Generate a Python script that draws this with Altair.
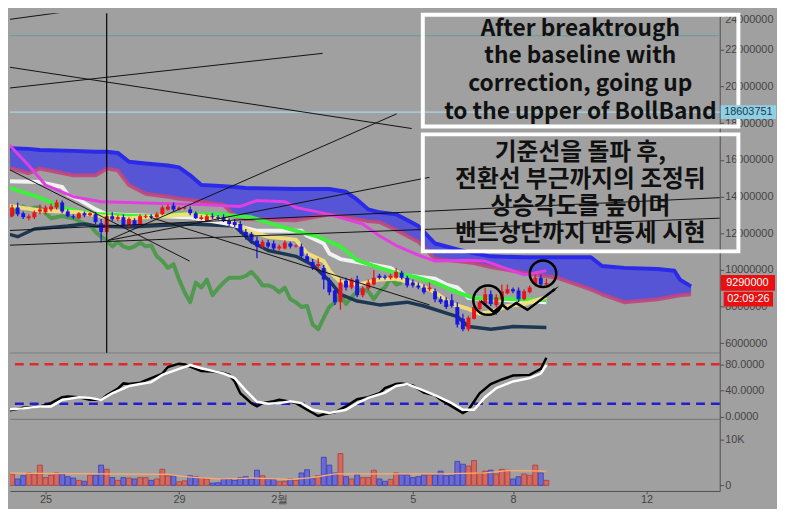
import altair as alt
import pandas as pd

# ---------------- 4h candles (price in millions) ----------------
OPEN = [12.50,12.93,13.40,13.09,12.82,12.87,13.19,13.14,13.30,13.40,
        13.67,13.19,12.93,12.82,13.09,12.98,13.03,12.55,12.07,12.93,
        12.77,12.87,12.39,12.71,12.45,12.87,12.93,12.87,13.03,13.30,
        13.51,13.30,13.35,13.30,13.09,12.77,12.66,12.93,12.87,12.87,
        12.66,12.61,12.50,12.07,11.97,11.60,11.28,11.49,11.44,11.17,
        11.17,11.44,11.28,11.28,10.74,10.43,10.21,10.11,9.41,8.88,
        8.24,9.41,9.04,9.47,8.62,8.99,9.20,9.68,9.63,9.57,
        9.57,9.84,9.57,9.31,9.15,9.04,8.94,8.83,8.40,8.35,
        8.35,7.98,7.34,6.76,7.34,7.87,8.14,8.67,8.09,8.40,
        8.72,8.94,8.88,8.40,8.78,9.20,9.57,9.20]
CLOSE = [12.93,13.40,13.03,12.87,12.93,13.14,13.30,13.40,13.46,13.67,
         13.19,12.93,12.87,13.09,12.98,13.09,12.61,12.07,12.93,12.77,
         12.87,12.39,12.77,12.39,12.93,12.93,12.87,13.03,13.40,13.46,
         13.30,13.40,13.40,13.09,12.82,12.87,12.93,12.87,12.82,12.66,
         12.50,12.45,12.07,11.81,11.60,11.28,11.54,11.28,11.17,11.28,
         11.49,11.28,11.33,10.74,10.48,10.11,10.32,9.47,8.78,8.24,
         9.31,9.04,9.47,8.62,8.99,9.31,9.57,9.57,9.57,9.68,
         9.89,9.57,9.15,9.15,9.04,8.78,9.04,8.40,8.24,7.98,
         8.03,7.02,6.76,7.39,7.98,8.24,8.67,8.14,8.51,8.83,
         8.94,8.83,8.40,8.83,9.04,9.57,9.20,9.29]
HIGH = [13.03,13.56,13.67,13.19,13.03,13.24,13.56,13.51,13.62,13.83,
        13.78,13.30,13.03,13.14,13.19,13.14,13.14,12.77,13.03,13.14,
        12.98,13.03,12.87,12.82,13.03,13.03,13.03,13.14,13.51,13.56,
        13.67,13.46,13.46,13.46,13.19,12.98,13.03,13.09,12.98,13.03,
        12.82,12.77,12.66,12.23,12.07,11.81,11.65,11.65,11.60,11.38,
        11.60,11.54,11.38,11.44,10.90,10.59,10.64,10.27,9.57,9.04,
        9.52,9.57,9.57,9.68,9.09,9.47,10.00,9.79,9.73,9.79,
        10.11,9.95,9.68,9.47,9.31,9.20,9.31,8.99,8.56,8.51,
        8.67,8.24,7.61,7.50,8.09,8.35,9.04,8.88,8.67,9.20,
        9.20,9.04,9.04,8.94,9.15,9.73,9.73,9.52]
LOW = [12.39,12.87,12.93,12.77,12.71,12.77,13.03,13.03,13.19,13.30,
       13.09,12.87,12.77,12.77,12.87,12.93,12.50,11.49,11.97,12.66,
       12.66,12.29,12.34,12.29,12.39,12.82,12.77,12.82,12.98,13.24,
       13.19,13.24,13.30,12.98,12.77,12.71,12.61,12.77,12.71,12.61,
       12.39,12.34,11.97,11.65,11.44,10.64,11.17,11.17,11.06,11.06,
       11.12,11.17,11.22,10.64,10.37,10.00,10.00,8.94,8.62,8.09,
       7.82,8.88,8.94,8.51,8.51,8.88,9.15,9.47,9.47,9.47,
       9.52,9.47,9.04,9.04,8.94,8.67,8.83,8.24,8.14,7.87,
       7.93,6.86,6.65,6.65,7.29,7.82,8.09,8.03,7.98,8.35,
       8.67,8.72,8.30,8.35,8.72,9.09,9.09,9.15]
VOLUME_K = [2.7,2.5,1.4,2.1,2.7,2.5,4.4,1.7,2.2,2.7,
            2.5,1.9,1.6,1.1,0.9,2.2,2.2,4.4,3.5,1.7,
            1.1,1.7,1.6,1.4,1.7,1.7,1.1,1.4,3.5,2.1,
            2.1,0.8,1.0,2.1,1.9,1.7,1.4,0.5,0.6,1.4,
            1.4,1.1,1.7,1.9,1.4,3.3,2.1,1.4,1.3,0.8,
            0.9,1.4,1.1,2.7,3.4,1.5,2.1,6.1,4.4,2.7,
            6.9,1.9,1.4,2.3,1.7,1.7,3.3,1.4,0.9,1.3,
            2.7,2.3,2.3,1.7,1.9,2.3,2.3,2.3,3.1,2.1,
            2.2,5.2,4.6,4.2,5.4,2.7,3.1,3.3,2.5,3.5,
            3.3,1.4,1.9,2.5,2.2,4.4,2.7,1.1]
VMA_I = [-1,17,29,32,38,44,51,55,59,78,86,90,97]
VMA_V = [2.7,2.5,2.4,1.9,1.4,1.6,1.3,1.7,2.5,2.5,2.7,3.2,3.1]

# ---------------- indicator lines (candle index, value) ----------------
CLOUD_I = [-1,4,6,12,16,18,20,22,25,29,31,33,35,39,41,43,52,58,61,63,65,67,70,74,77,81,84,87,93,99,105,107,111,117,120,121,123]
SPAN_TOP = [16.65,16.60,16.54,16.49,16.44,16.44,16.38,15.90,15.80,15.69,15.59,15.16,14.63,14.57,14.52,14.47,14.41,14.41,14.26,13.83,
            13.30,13.14,13.03,12.39,11.44,11.12,10.90,10.74,10.69,10.69,10.69,10.21,10.11,10.05,9.95,9.47,9.10]
SPAN_BOT = [15.69,15.27,15.53,15.16,15.16,15.53,15.43,14.63,14.15,13.99,13.88,13.83,13.72,13.56,12.93,12.77,12.71,13.03,12.87,12.77,
            12.66,12.61,12.18,11.54,10.59,10.48,10.37,10.16,9.84,9.57,8.94,8.67,8.24,8.40,8.56,8.62,8.67]
MAG_I = [-1,4,7,12,17,35,42,45,50,52,58,64,67,70,74,77,83,86,90,93,97]
MAG_V = [17.29,15.69,14.63,13.99,13.72,13.56,13.46,13.78,13.72,13.40,13.03,12.50,11.86,11.33,10.80,10.48,10.53,10.48,10.05,9.73,9.95]
WHITE_I = [-1,6,10,11,13,16,18,33,40,45,53,54,57,58,60,65,69,71,77,79,81,83,97]
WHITE_V = [14.84,14.79,14.52,14.10,13.83,13.30,13.03,12.87,12.50,12.13,12.13,11.86,11.44,10.90,10.59,10.32,10.11,9.73,9.52,9.20,9.04,8.46,8.24]
LIME_I = [-1,6,10,13,17,24,28,31,38,44,49,52,56,60,63,67,70,74,77,79,81,84,97]
LIME_V = [14.63,13.94,13.40,13.19,13.03,12.93,12.93,13.03,13.03,12.87,12.39,12.13,11.81,11.28,10.53,10.11,9.84,9.57,9.31,9.04,8.78,8.46,8.35]
YEL_I = [-1,6,13,17,22,33,40,44,47,52,54,57,58,60,63,67,70,74,77,80,83,85,87,90,93,97]
YEL_V = [13.56,13.24,13.14,12.93,12.82,13.03,12.71,12.07,11.81,11.65,10.90,10.48,9.95,9.35,9.20,9.47,9.52,9.20,8.78,8.14,7.87,7.61,7.71,8.03,8.14,8.51]
NAVY_I = [-1,2,5,11,14,16,22,33,41,44,47,52,55,58,60,63,67,72,75,81,83,87,91,97]
NAVY_V = [12.07,11.81,12.23,12.39,12.50,12.39,12.34,12.50,12.39,11.54,11.06,10.74,10.27,9.41,8.67,8.30,8.09,8.24,8.03,7.45,6.91,6.76,6.91,6.86]
CHIKOU_SHIFT = 26

# stochastic
K_I = [-1,0,3,6,8,10,11,13,15,17,18,20,21,22,24,26,28,29,31,32,34,35,37,39,40,41,42,44,45,46,48,49,51,52,54,56,57,59,61,63,65,67,68,70,71,73,75,77,78,80,82,83,85,87,89,91,94,96,97]
K_V = [11,9,14,16,21,30,31,30,26,26,33,43,51,50,52,59,66,76,81,80,73,70,69,67,64,54,36,21,16,21,24,26,23,21,11,1.5,4,7,16,27,30,36,44,50,51,48,37,33,26,16,6,11,36,50,57,63,64,73,90]
D_I = [-1,3,6,8,10,13,15,17,19,22,24,26,28,31,33,35,37,39,41,43,45,47,49,51,53,55,58,61,63,65,68,70,72,75,77,80,82,84,86,88,91,94,96,97]
D_V = [11,13,16,16,26,30,29,26,36,47,50,53,64,73,79,74,70,66,59,40,23,20,21,24,21,11,6,11,21,29,37,47,50,40,33,21,11,11,30,44,54,59,66,79]
STO_HI, STO_LO = 80, 20

# drawn objects
TL_I1 = [0.0,0.0,0.0,18.2,0.0,0.0,18.2,0.0,25.8]
TL_P1 = [23.64,19.90,21.08,11.60,15.55,11.34,11.60,12.14,12.87]
TL_I2 = [13.4,56.8,72.8,70.1,32.9,128.2,76.0,128.2,76.0]
TL_P2 = [24.19,21.81,17.71,18.51,10.48,12.82,15.05,13.94,8.09]
VLINE_I = 18.0
HLINE_P = [22.77, 18.603751]
HLINE_C = ["#5f9f98", "#a9d7e8"]
CIRC_I = [86.5, 96.4]
CIRC_P = [8.35, 9.79]
CIRC_S = [880, 720]
ARROW_I = [85.2, 87.5, 89.1, 90.0, 91.6, 93.6, 98.5]
ARROW_P = [8.30, 7.71, 8.09, 7.87, 8.19, 7.82, 8.94]
HEAD_I = [87.5, 91.6, 98.5]
HEAD_P = [7.71, 8.19, 8.94]
HEAD_A = [130, 56, 53]

EN_LINES = ["After breaktrough", "the baseline with", "correction, going up", "to the upper of BollBand"]
EN_P = [23.14, 21.65, 20.11, 18.62]
KO_LINES = ["기준선을 돌파 후,", "전환선 부근까지의 조정뒤", "상승각도를 높이며", "밴드상단까지 반등세 시현"]
KO_P = [16.38, 14.89, 13.40, 11.97]
TEXT_I = 103.1
BOX_I = [74.8, 131.5]
BOX_P1 = [23.92, 17.39]
BOX_P2 = [17.82, 11.01]

LAST_PRICE = 9.29
LAST_LABEL = "9290000"
TIMER = "02:09:26"
LINE_LABEL = "18603751"

PRICE_TICKS = [6, 8, 10, 12, 14, 16, 18, 20, 22, 24]
DATE_TICKS = [7, 31, 49, 73, 91, 115]
DATE_LABELS = ["25", "29", "2월", "5", "8", "12"]

# ---------------- styling ----------------
W, H1, H2, H3 = 719, 344, 67, 73
BG = "#a0a0a0"
AX = "#505050"
LBLC = "#444444"
RED, BLUE = "#e8141c", "#1717e0"

XS = alt.Scale(domain=[0.62, 128.15], nice=False, zero=False, padding=0)
YS1 = alt.Scale(domain=[5.48, 24.0], nice=False, zero=False, padding=0)
YS2 = alt.Scale(domain=[-3, 97.6], nice=False, zero=False, padding=0)
YS3 = alt.Scale(domain=[-1.2, 14.4], nice=False, zero=False, padding=0)

common_axis = dict(grid=False, title=None, domainColor=AX, tickColor=AX, labelColor=LBLC,
                   labelFont="Liberation Sans", labelFontSize=11)
AX_PLAIN = alt.Axis(orient="bottom", labels=False, ticks=False, domain=True, domainColor=AX, grid=False, title=None)
expr = "''"
for v, lab in zip(reversed(DATE_TICKS), reversed(DATE_LABELS)):
    expr = f"datum.value == {v} ? '{lab}' : ({expr})"
AX_DATE = alt.Axis(orient="bottom", values=DATE_TICKS, labelExpr=expr, tickSize=3, labelPadding=0, **common_axis)
AY1 = alt.Axis(orient="right", values=PRICE_TICKS, labelExpr="format(datum.value * 1000000, 'd')",
               tickSize=4, labelPadding=1, labelFlush=True, **common_axis)
AY2 = alt.Axis(orient="right", values=[0, 40, 80], labelExpr="format(datum.value, '.4f')",
               tickSize=4, labelPadding=1, **common_axis)
AY3 = alt.Axis(orient="right", values=[0, 10], labelExpr="datum.value == 10 ? '10K' : '0'",
               tickSize=4, labelPadding=1, **common_axis)


def X(f="i", axis=AX_PLAIN):
    return alt.X(f"{f}:Q", scale=XS, axis=axis)


def Y1(f="p"):
    return alt.Y(f"{f}:Q", scale=YS1, axis=AY1)


def series(I, V):
    return pd.DataFrame({"i": I, "p": V})


def pline(I, V, color, width, opacity=1.0):
    return alt.Chart(series(I, V)).mark_line(color=color, strokeWidth=width, opacity=opacity,
                                             clip=True, strokeJoin="round").encode(x=X(), y=Y1())


candles = pd.DataFrame({"i": list(range(len(CLOSE))), "o": OPEN, "h": HIGH, "l": LOW, "c": CLOSE, "v": VOLUME_K})
candles["col"] = [RED if c >= o else BLUE for o, c in zip(OPEN, CLOSE)]
candles["vf"] = ["#d4695e" if c >= o else "#6a6ad6" for o, c in zip(OPEN, CLOSE)]
candles["vs"] = ["#a84040" if c >= o else "#3c3caa" for o, c in zip(OPEN, CLOSE)]
chikou = pd.DataFrame({"i": [k - CHIKOU_SHIFT for k in range(len(CLOSE))], "p": CLOSE})
chikou = chikou[chikou["i"] >= -1]

cloud = pd.DataFrame({"i": CLOUD_I, "top": SPAN_TOP, "bot": SPAN_BOT})
layers = []
layers.append(alt.Chart(cloud).mark_area(color="#5555d6", opacity=1, clip=True).encode(
    x=X(), y=alt.Y("top:Q", scale=YS1, axis=AY1), y2="bot:Q"))
layers.append(alt.Chart(pd.DataFrame({"p": HLINE_P, "c": HLINE_C})).mark_rule(strokeWidth=1.2).encode(
    y=Y1(), color=alt.Color("c:N", scale=None)))
layers.append(pline(CLOUD_I, SPAN_TOP, "#2a2ae8", 4))
layers.append(pline(CLOUD_I, SPAN_BOT, "#c04680", 4, 0.9))
layers.append(alt.Chart(chikou).mark_line(color="#4f9a4f", strokeWidth=4, clip=True, strokeJoin="round").encode(x=X(), y=Y1()))
layers.append(pline(NAVY_I, NAVY_V, "#1d3753", 3.5))
layers.append(pline(WHITE_I, WHITE_V, "#f2f2f2", 4))
layers.append(pline(LIME_I, LIME_V, "#3cf03c", 4))
layers.append(pline(YEL_I, YEL_V, "#f3e07a", 4, 0.95))
layers.append(pline(MAG_I, MAG_V, "#e23ee2", 3))
layers.append(alt.Chart(candles).mark_rule(strokeWidth=1.3, clip=True).encode(
    x=X(), y=alt.Y("l:Q", scale=YS1, axis=AY1), y2="h:Q", color=alt.Color("col:N", scale=None)))
layers.append(alt.Chart(candles).mark_bar(size=4, clip=True).encode(
    x=X(), y=alt.Y("o:Q", scale=YS1, axis=AY1), y2="c:Q", color=alt.Color("col:N", scale=None)))
tl = pd.DataFrame({"i": TL_I1, "p": TL_P1, "i2": TL_I2, "p2": TL_P2})
layers.append(alt.Chart(tl).mark_rule(color="#111111", strokeWidth=1, clip=True).encode(
    x=X(), y=Y1(), x2="i2:Q", y2="p2:Q"))
layers.append(alt.Chart(pd.DataFrame({"i": [VLINE_I]})).mark_rule(color="#000000", strokeWidth=1.2).encode(x=X()))
layers.append(alt.Chart(series(ARROW_I, ARROW_P)).mark_line(color="#000000", strokeWidth=2.5, strokeJoin="miter").encode(x=X(), y=Y1()))
heads = pd.DataFrame({"i": HEAD_I, "p": HEAD_P, "a": HEAD_A})
layers.append(alt.Chart(heads).mark_point(shape="wedge", filled=True, color="#000000", size=90, opacity=1).encode(
    x=X(), y=Y1(), angle=alt.Angle("a:Q", scale=None)))
circ = pd.DataFrame({"i": CIRC_I, "p": CIRC_P, "s": CIRC_S})
layers.append(alt.Chart(circ).mark_point(shape="circle", filled=False, color="#000000", strokeWidth=2.5, opacity=1).encode(
    x=X(), y=Y1(), size=alt.Size("s:Q", scale=None)))
boxes = pd.DataFrame({"i": [BOX_I[0]] * 2, "i2": [BOX_I[1]] * 2, "p": BOX_P1, "p2": BOX_P2})
layers.append(alt.Chart(boxes).mark_rect(fillOpacity=0, stroke="#ffffff", strokeWidth=4).encode(
    x=X(), x2="i2:Q", y=Y1(), y2="p2:Q"))
en = pd.DataFrame({"i": [TEXT_I] * 4, "p": EN_P, "t": EN_LINES})
layers.append(alt.Chart(en).mark_text(font="Noto Sans CJK KR", fontWeight="bold", fontSize=23, color="#111111",
                                      align="center", baseline="middle").encode(x=X(), y=Y1(), text="t:N"))
ko = pd.DataFrame({"i": [TEXT_I] * 4, "p": KO_P, "t": KO_LINES})
layers.append(alt.Chart(ko).mark_text(font="Noto Sans CJK KR", fontWeight="bold", fontSize=24, color="#111111",
                                      align="center", baseline="middle").encode(x=X(), y=Y1(), text="t:N"))
# right-side price tags
lab = pd.DataFrame({"p": [LAST_PRICE], "t": [LAST_LABEL], "t2": [TIMER], "q": [HLINE_P[1]], "t3": [LINE_LABEL]})
layers.append(alt.Chart(lab).mark_rect(color="#e81010", yOffset=-8, y2Offset=8).encode(
    x=alt.value(720), x2=alt.value(775), y=Y1(), y2="p:Q"))
layers.append(alt.Chart(lab).mark_rect(color="#e81010", yOffset=9, y2Offset=24).encode(
    x=alt.value(723), x2=alt.value(773), y=Y1(), y2="p:Q"))
layers.append(alt.Chart(lab).mark_rect(color="#8fd0e6", yOffset=-7, y2Offset=7).encode(
    x=alt.value(720), x2=alt.value(776), y=Y1("q"), y2="q:Q"))
layers.append(alt.Chart(lab).mark_text(color="#ffffff", font="Liberation Sans", fontSize=11, align="center", baseline="middle").encode(
    x=alt.value(747), y=Y1(), text="t:N"))
layers.append(alt.Chart(lab).mark_text(color="#ffffff", font="Liberation Sans", fontSize=11, align="center", baseline="middle", dy=16).encode(
    x=alt.value(748), y=Y1(), text="t2:N"))
layers.append(alt.Chart(lab).mark_text(color="#1c3846", font="Liberation Sans", fontSize=11, align="center", baseline="middle").encode(
    x=alt.value(748), y=Y1("q"), text="t3:N"))

main = alt.layer(*layers).properties(width=W, height=H1)

# ---------------- stochastic panel ----------------
def Y2(f="p"):
    return alt.Y(f"{f}:Q", scale=YS2, axis=AY2)

sto_lv = pd.DataFrame({"p": [STO_HI, STO_LO], "c": ["#e02a2a", "#2020cc"]})
sto = alt.layer(
    alt.Chart(sto_lv).mark_rule(strokeWidth=2.5, strokeDash=[9, 6]).encode(y=Y2(), color=alt.Color("c:N", scale=None)),
    alt.Chart(series(K_I, K_V)).mark_line(color="#000000", strokeWidth=2.5, clip=True).encode(x=X(), y=Y2()),
    alt.Chart(series(D_I, D_V)).mark_line(color="#ffffff", strokeWidth=2.5, clip=True).encode(x=X(), y=Y2()),
).properties(width=W, height=H2)

# ---------------- volume panel ----------------
vol = alt.layer(
    alt.Chart(candles).mark_bar(size=5, strokeWidth=0.8, clip=True).encode(
        x=X(axis=AX_DATE), y=alt.Y("v:Q", scale=YS3, axis=AY3), y2=alt.datum(0),
        fill=alt.Fill("vf:N", scale=None), stroke=alt.Stroke("vs:N", scale=None)),
    alt.Chart(series(VMA_I, VMA_V)).mark_line(color="#ffab70", strokeWidth=1.3, clip=True).encode(
        x=X(axis=AX_DATE), y=alt.Y("p:Q", scale=YS3, axis=AY3)),
).properties(width=W, height=H3)

chart = alt.vconcat(main, sto, vol, spacing=0, bounds="flush").properties(
    padding={"left": 0, "top": 0, "right": 0, "bottom": 0},
    autosize=alt.AutoSizeParams(type="pad")).configure(
    background=BG).configure_view(fill=BG, stroke="transparent")

chart.save("out.html", embed_options={"renderer": "svg", "actions": False})
